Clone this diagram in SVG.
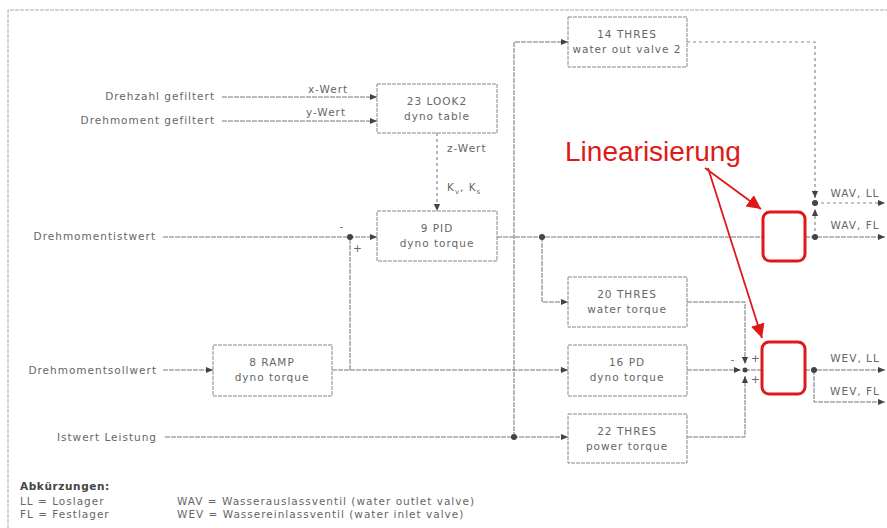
<svg xmlns="http://www.w3.org/2000/svg" width="887" height="528" viewBox="0 0 887 528">
<defs>
<marker id="ah" viewBox="0 0 8 8" refX="8" refY="4" markerWidth="7" markerHeight="7" markerUnits="userSpaceOnUse" orient="auto"><path d="M0,0.5 L8,4 L0,7.5 Z" fill="#444"/></marker>
<marker id="rah" viewBox="0 0 10 10" refX="10" refY="5" markerWidth="14" markerHeight="14" markerUnits="userSpaceOnUse" orient="auto"><path d="M0,0 L10,5 L0,10 Z" fill="#e01818"/></marker>
<style>
.t{font-family:"DejaVu Sans",sans-serif;font-size:10.5px;fill:#666;letter-spacing:1px}
.c{text-anchor:middle}
.r{text-anchor:end}
.box{fill:#fff;stroke:#888;stroke-width:1;stroke-dasharray:4 1}
.ln{fill:none;stroke:#777;stroke-width:1;stroke-dasharray:5 1}
.dl{fill:none;stroke:#888;stroke-width:1.2;stroke-dasharray:3 3}
.dot{fill:#444}
.red{fill:none;stroke:#e01818;stroke-width:3}
.rl{stroke:#e01818;stroke-width:1.8;fill:none}
</style>
</defs>
<rect width="887" height="528" fill="#fff"/>
<path d="M8,528 V10 H887" fill="none" stroke="#aaa" stroke-width="1" stroke-dasharray="4 1"/>

<g id="connectors">
<path class="ln" d="M222,97 H377" marker-end="url(#ah)"/>
<path class="ln" d="M222,121 H377" marker-end="url(#ah)"/>
<path class="dl" d="M437,133 V211" marker-end="url(#ah)"/>
<path class="ln" d="M163,237 H377" marker-end="url(#ah)"/>
<path class="ln" d="M163,370 H213" marker-end="url(#ah)"/>
<path class="ln" d="M332,370 H568" marker-end="url(#ah)"/>
<path class="ln" d="M350,370 V237"/>
<path class="ln" d="M165,437 H568" marker-end="url(#ah)"/>
<path class="ln" d="M514,437 V42 H568" marker-end="url(#ah)"/>
<path class="ln" d="M497,237 H763"/>
<path class="ln" d="M542,237 V302 H568" marker-end="url(#ah)"/>
<path class="dl" d="M687,42 H815 V198" marker-end="url(#ah)"/>
<path class="dl" d="M815,237 V209" marker-end="url(#ah)"/>
<path class="dl" d="M815,203 H885" marker-end="url(#ah)"/>
<path class="ln" d="M805,237 H885" marker-end="url(#ah)"/>
<path class="ln" d="M687,302 H745 V364" marker-end="url(#ah)"/>
<path class="ln" d="M687,437 H745 V376" marker-end="url(#ah)"/>
<path class="ln" d="M687,370 H741" marker-end="url(#ah)"/>
<path class="ln" d="M745,370 H762"/>
<path class="ln" d="M805,370 H885" marker-end="url(#ah)"/>
<path class="ln" d="M814,370 V402 H885" marker-end="url(#ah)"/>
<circle class="dot" cx="350" cy="237" r="3"/>
<circle class="dot" cx="542" cy="237" r="3"/>
<circle class="dot" cx="514" cy="437" r="3"/>
<circle class="dot" cx="815" cy="203" r="3"/>
<circle class="dot" cx="815" cy="237" r="3"/>
<circle class="dot" cx="745" cy="370" r="2.5"/>
<circle class="dot" cx="814" cy="370" r="3"/>
<text class="t c" x="328" y="93">x-Wert</text>
<text class="t c" x="326" y="116">y-Wert</text>
<text class="t" x="447" y="152">z-Wert</text>
<text class="t" x="447" y="191">K<tspan font-size="7" dy="3">v</tspan><tspan dy="-3">, K</tspan><tspan font-size="7" dy="3">s</tspan></text>
<text class="t c" x="342" y="230">-</text>
<text class="t c" x="358" y="252" font-size="8">+</text>
<text class="t c" x="733" y="363">-</text>
<text class="t c" x="756" y="362" font-size="8">+</text>
<text class="t c" x="756" y="383" font-size="8">+</text>
<text class="t c" x="855" y="197">WAV, LL</text>
<text class="t c" x="855" y="229">WAV, FL</text>
<text class="t c" x="855" y="362">WEV, LL</text>
<text class="t c" x="855" y="395">WEV, FL</text>
</g>

<g id="in-drehzahl"><text class="t r" x="215" y="100">Drehzahl gefiltert</text></g>
<g id="in-drehmoment"><text class="t r" x="215" y="124">Drehmoment gefiltert</text></g>
<g id="in-ist"><text class="t r" x="156" y="240">Drehmomentistwert</text></g>
<g id="in-soll"><text class="t r" x="157" y="374">Drehmomentsollwert</text></g>
<g id="in-leistung"><text class="t r" x="157" y="441">Istwert Leistung</text></g>

<g id="n23"><rect class="box" x="377" y="84" width="120" height="49"/><text class="t c" x="437" y="105">23 LOOK2</text><text class="t c" x="437" y="120">dyno table</text></g>
<g id="n14"><rect class="box" x="568" y="17" width="119" height="50"/><text class="t c" x="627" y="38">14 THRES</text><text class="t c" x="627" y="53">water out valve 2</text></g>
<g id="n9"><rect class="box" x="377" y="211" width="120" height="50"/><text class="t c" x="437" y="232">9 PID</text><text class="t c" x="437" y="247">dyno torque</text></g>
<g id="n8"><rect class="box" x="213" y="345" width="119" height="51"/><text class="t c" x="272" y="366">8 RAMP</text><text class="t c" x="272" y="381">dyno torque</text></g>
<g id="n20"><rect class="box" x="568" y="277" width="119" height="50"/><text class="t c" x="627" y="298">20 THRES</text><text class="t c" x="627" y="313">water torque</text></g>
<g id="n16"><rect class="box" x="568" y="345" width="119" height="51"/><text class="t c" x="627" y="366">16 PD</text><text class="t c" x="627" y="381">dyno torque</text></g>
<g id="n22"><rect class="box" x="568" y="414" width="119" height="49"/><text class="t c" x="627" y="435">22 THRES</text><text class="t c" x="627" y="450">power torque</text></g>

<g id="lin1"><rect class="red" x="763" y="212" width="42" height="49" rx="7"/></g>
<g id="lin2"><rect class="red" x="762" y="342" width="43" height="52" rx="7"/></g>
<g id="linearisierung">
<text x="653" y="161" font-family="Liberation Sans, Arial, sans-serif" font-size="28" fill="#e01818" text-anchor="middle">Linearisierung</text>
<path class="rl" d="M705,168 L761,209" marker-end="url(#rah)"/>
<path class="rl" d="M708,168 L762,338" marker-end="url(#rah)"/>
</g>

<g id="legend">
<text x="20" y="490" font-family="DejaVu Sans, sans-serif" font-size="10.5" font-weight="bold" fill="#444" letter-spacing="0.6">Abkürzungen:</text>
<text class="t" x="20" y="505">LL = Loslager</text>
<text class="t" x="20" y="518">FL = Festlager</text>
<text class="t" x="177" y="505">WAV = Wasserauslassventil (water outlet valve)</text>
<text class="t" x="177" y="518">WEV = Wassereinlassventil (water inlet valve)</text>
</g>
</svg>
